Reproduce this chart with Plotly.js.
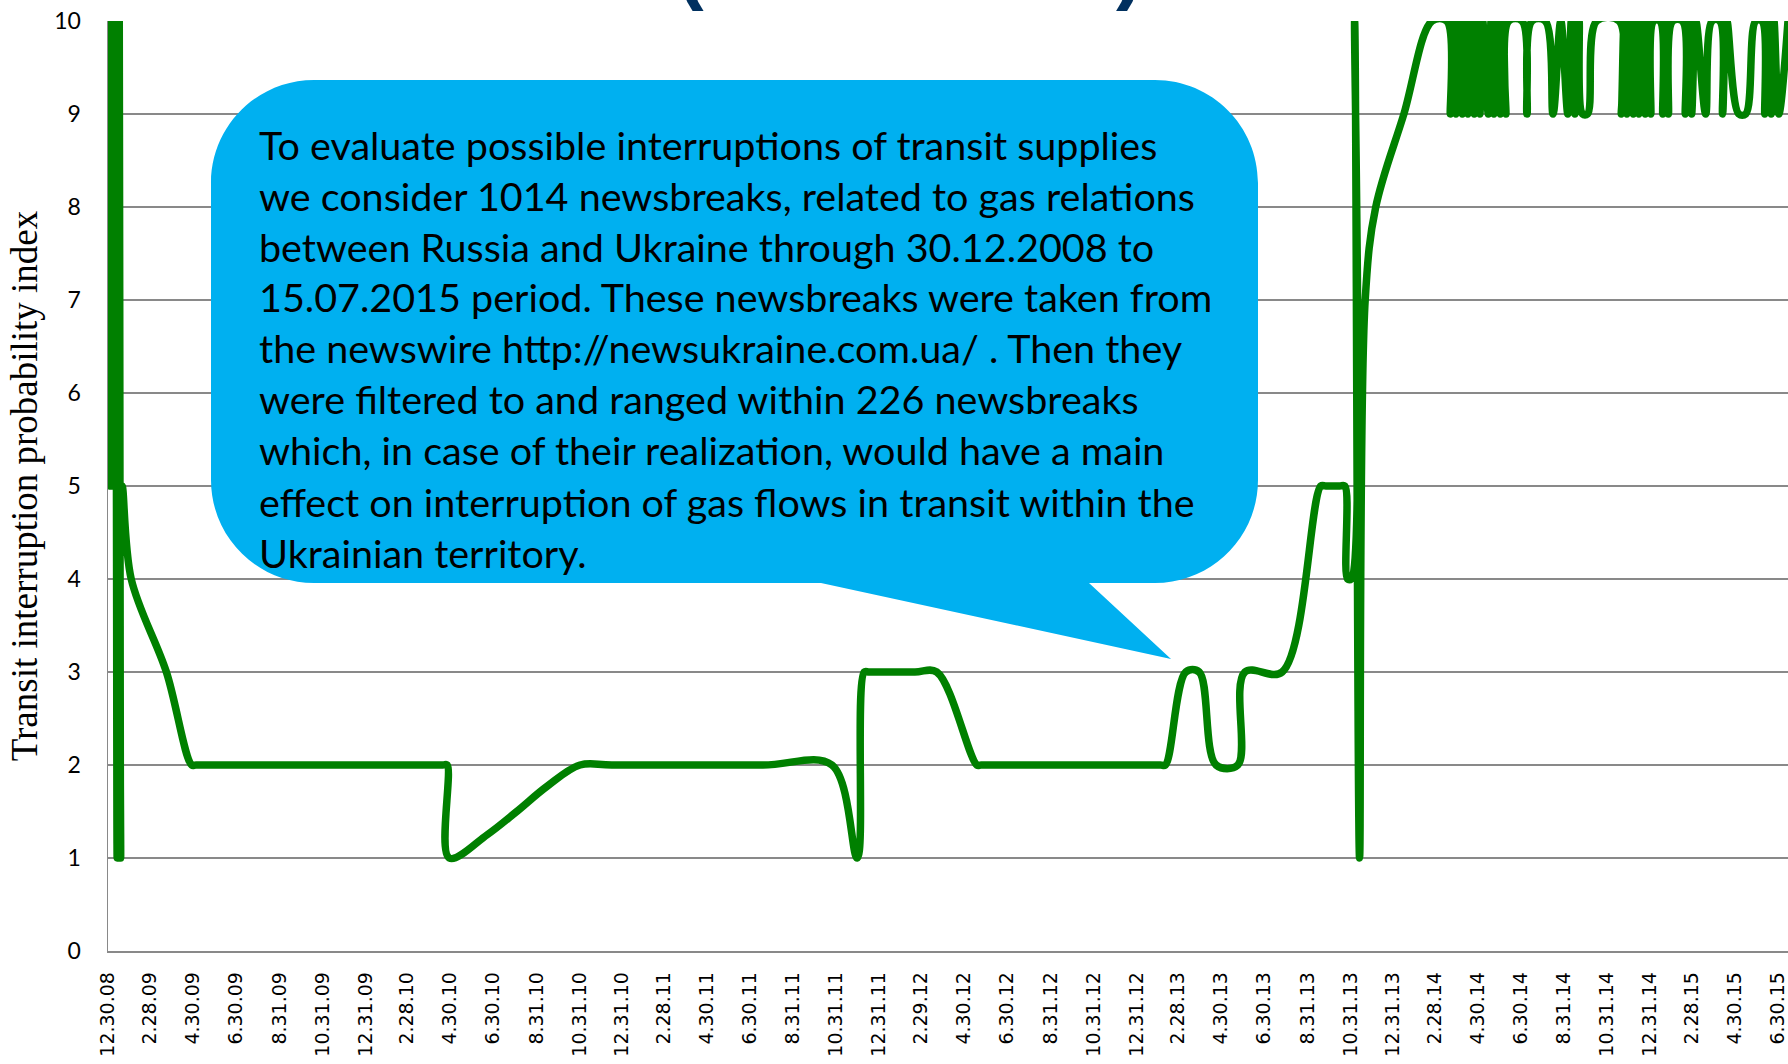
<!DOCTYPE html>
<html>
<head>
<meta charset="utf-8">
<script src="https://cdn.plot.ly/plotly-3.0.1.min.js"></script>
<style>html,body{margin:0;padding:0;background:#fff;overflow:hidden}</style>
</head>
<body>
<div id="chart" style="width:1788px;height:1064px"></div>
<script>
// ---------- DATA ----------
const dates = [
  "2008-12-30","2008-12-31","2009-01-02","2009-01-03","2009-01-05","2009-01-06","2009-01-08","2009-01-09",
  "2009-01-11","2009-01-12","2009-01-14","2009-01-15","2009-01-16","2009-01-17","2009-01-19",
  "2009-02-01","2009-03-23","2009-04-28","2009-05-04",
  "2010-04-20","2010-04-26","2010-04-29","2010-06-22","2010-08-03","2010-09-15","2010-11-01","2010-12-16",
  "2011-07-19","2011-10-25","2011-11-30","2011-12-10","2011-12-17","2012-02-20","2012-03-22","2012-05-18","2012-05-24",
  "2013-02-03","2013-02-10","2013-03-11","2013-03-30","2013-04-23","2013-05-24","2013-06-03","2013-07-26",
  "2013-09-19","2013-09-26","2013-10-16","2013-10-23","2013-10-27","2013-11-01","2013-11-06","2013-11-13",
  "2013-11-21","2013-12-06","2014-01-15","2014-02-24","2014-03-17",
  "2014-03-22","2014-03-26","2014-03-30","2014-04-03","2014-04-08","2014-04-12","2014-04-16","2014-04-20",
  "2014-04-25","2014-04-29","2014-05-03","2014-05-07","2014-05-15","2014-05-19","2014-05-23","2014-05-27",
  "2014-06-01","2014-06-05","2014-06-09","2014-06-13","2014-07-02","2014-07-09","2014-07-16",
  "2014-08-04","2014-08-15","2014-08-26","2014-09-05","2014-09-10","2014-09-15","2014-09-21","2014-09-26",
  "2014-10-03","2014-10-16",
  "2014-11-17","2014-11-20","2014-11-24","2014-11-28","2014-12-02","2014-12-07","2014-12-11","2014-12-15",
  "2014-12-19","2014-12-24","2014-12-28",
  "2015-01-01","2015-01-05","2015-01-14","2015-01-18","2015-01-22","2015-01-26","2015-02-01",
  "2015-02-15","2015-02-19","2015-02-24","2015-02-28","2015-03-06","2015-03-20","2015-03-29",
  "2015-04-09","2015-04-13","2015-04-19","2015-05-06","2015-05-16","2015-05-30",
  "2015-06-08","2015-06-12","2015-06-16","2015-06-21","2015-06-25","2015-07-02","2015-07-15"
];
const indexValues = [
  5,10,5,10,5,10,5,10,
  5,1,5,10,5,1,5,
  4,3,2,2,
  2,2,1,1.25,1.5,1.77,2,2,
  2,2,1,3,3,3,3,2,2,
  2,2,3,3,2,2,3,3,
  5,5,5,5,4,4,10,1,
  7,8,9,10,10,
  9,10,9,10,9,10,9,10,
  9,10,9,10,9,10,9,10,
  9,10,9,10,10,9,10,
  10,9,10,9,10,9,10,9,
  9,10,
  10,9,10,9,10,9,10,9,
  10,9,10,
  9,10,10,9,10,9,10,
  10,9,10,9,10,9,10,
  10,9,10,9,9,10,
  10,9,10,9,10,9,10
];
const tickLabels = [
  "12.30.08","2.28.09","4.30.09","6.30.09","8.31.09","10.31.09","12.31.09",
  "2.28.10","4.30.10","6.30.10","8.31.10","10.31.10","12.31.10",
  "2.28.11","4.30.11","6.30.11","8.31.11","10.31.11","12.31.11",
  "2.29.12","4.30.12","6.30.12","8.31.12","10.31.12","12.31.12",
  "2.28.13","4.30.13","6.30.13","8.31.13","10.31.13","12.31.13",
  "2.28.14","4.30.14","6.30.14","8.31.14","10.31.14","12.31.14",
  "2.28.15","4.30.15","6.30.15"
];
const yTitle = "Transit interruption probability index";
const calloutLines = [
  "To evaluate possible interruptions of transit supplies",
  "we consider 1014 newsbreaks, related to gas relations",
  "between Russia and Ukraine through 30.12.2008 to",
  "15.07.2015 period. These newsbreaks were taken from",
  "the newswire http://newsukraine.com.ua/ . Then they",
  "were filtered to and ranged within 226 newsbreaks",
  "which, in case of their realization, would have a main",
  "effect on interruption of gas flows in transit within the",
  "Ukrainian territory."
];

// ---------- LAYOUT HELPERS ----------
const W = 1788, H = 1064;
const M = {l:108, r:0, t:21, b:113};
const PW = W - M.l - M.r, PH = H - M.t - M.b;
const px = X => +((X - M.l) / PW).toFixed(5);
const py = Y => +((H - M.b - Y) / PH).toFixed(5);

const tickVals = tickLabels.map(s => {
  const [m, d, y] = s.split('.');
  return `20${y}-${m.padStart(2,'0')}-${d.padStart(2,'0')}`;
});

// callout bubble geometry (pixels)
const B = {x0:211, x1:1258, y0:80, y1:583, r:103, tailA:821, tailB:1089, tipX:1171, tipY:659};
const k = B.r * 0.5523;
const P = (x, y) => `${px(x)},${py(y)}`;
const bubblePath =
  `M ${P(B.x0+B.r,B.y0)} L ${P(B.x1-B.r,B.y0)} ` +
  `C ${P(B.x1-B.r+k,B.y0)} ${P(B.x1,B.y0+B.r-k)} ${P(B.x1,B.y0+B.r)} ` +
  `L ${P(B.x1,B.y1-B.r)} ` +
  `C ${P(B.x1,B.y1-B.r+k)} ${P(B.x1-B.r+k,B.y1)} ${P(B.x1-B.r,B.y1)} ` +
  `L ${P(B.tailB,B.y1)} L ${P(B.tipX,B.tipY)} L ${P(B.tailA,B.y1)} ` +
  `L ${P(B.x0+B.r,B.y1)} ` +
  `C ${P(B.x0+B.r-k,B.y1)} ${P(B.x0,B.y1-B.r+k)} ${P(B.x0,B.y1-B.r)} ` +
  `L ${P(B.x0,B.y0+B.r)} ` +
  `C ${P(B.x0,B.y0+B.r-k)} ${P(B.x0+B.r-k,B.y0)} ${P(B.x0+B.r,B.y0)} Z`;

const textAnnotations = calloutLines.map((t, i) => ({
  xref:'paper', yref:'paper', x:px(257), y:py(144 + 51*i),
  xanchor:'left', yanchor:'middle', text:t, showarrow:false,
  font:{family:'Lato, Open Sans, sans-serif', size:39.5, color:'#000000'}
}));

const parenAnnotations = [['(',690],[')',1129]].map(([t,x]) => ({
  xref:'paper', yref:'paper', x:px(x), y:py(13), xanchor:'center', yanchor:'bottom',
  text:'<b>'+t+'</b>', showarrow:false,
  font:{family:'Liberation Sans, Arial, sans-serif', size:80, color:'#00305F'}
}));

const trace = {
  type:'scatter', mode:'lines', x:dates, y:indexValues,
  line:{color:'#008000', width:7.5, shape:'spline', smoothing:1},
  hoverinfo:'skip', showlegend:false
};

const layout = {
  width:W, height:H, margin:M,
  paper_bgcolor:'#ffffff', plot_bgcolor:'#ffffff',
  showlegend:false,
  xaxis:{
    type:'date', range:['2008-12-30','2015-07-15'],
    tickmode:'array', tickvals:tickVals, ticktext:tickLabels, tickangle:-90,
    tickfont:{family:'DejaVu Sans, Verdana, sans-serif', size:19, color:'#000000'},
    showgrid:false, zeroline:false, showline:true, linecolor:'#898989', linewidth:1.5,
    ticks:'', ticklabelstandoff:12, automargin:false, fixedrange:true
  },
  yaxis:{
    range:[0,10], tickmode:'linear', tick0:0, dtick:1,
    showgrid:true, gridcolor:'#898989', gridwidth:1.4,
    zeroline:false, showline:true, linecolor:'#898989', linewidth:1.5,
    ticks:'', ticklabelstandoff:21,
    tickfont:{family:'Lato, sans-serif', size:23, color:'#000000'},
    title:{text:yTitle, font:{family:'Liberation Serif, Times New Roman, serif', size:37, color:'#000000'}, standoff:5},
    automargin:false, fixedrange:true
  },
  shapes:[{type:'path', xref:'paper', yref:'paper', path:bubblePath,
           fillcolor:'#00B0F0', line:{width:0}, layer:'above'}],
  annotations:[...textAnnotations, ...parenAnnotations]
};

Plotly.newPlot('chart', [trace], layout, {staticPlot:true, displayModeBar:false});
</script>
</body>
</html>
